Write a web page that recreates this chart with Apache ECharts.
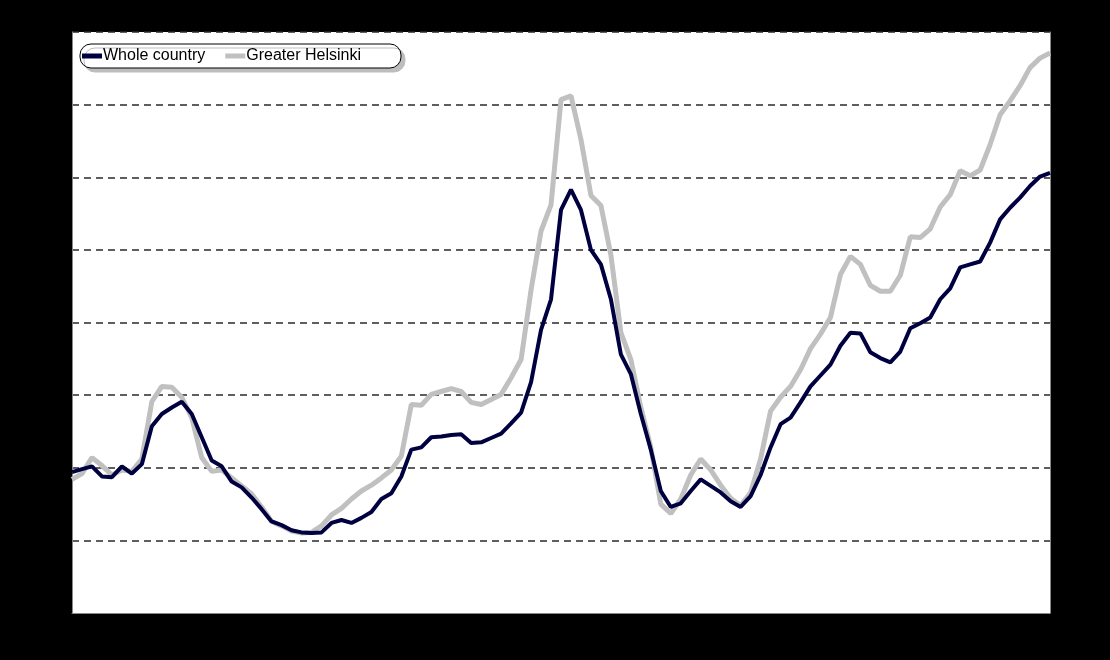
<!DOCTYPE html>
<html>
<head>
<meta charset="utf-8">
<script src="https://cdn.jsdelivr.net/npm/echarts@6/dist/echarts.min.js"></script>
<style>html,body{margin:0;padding:0;background:#000;}#chart{width:1110px;height:660px;}</style>
</head>
<body>
<div id="chart"></div>
<script>
const seriesNames = ['Whole country', 'Greater Helsinki'];
const periods = [];
for (let i = 1; i <= 99; i++) periods.push('P' + i);
const wholeCountry = [
  1.94,1.98,2.02,1.88,1.87,2.02,1.92,2.05,2.57,2.74,
  2.83,2.91,2.74,2.42,2.10,2.02,1.81,1.73,1.59,1.43,
  1.26,1.21,1.14,1.11,1.10,1.11,1.24,1.28,1.24,1.31,
  1.39,1.57,1.65,1.88,2.25,2.28,2.42,2.43,2.45,2.46,
  2.34,2.35,2.41,2.47,2.61,2.76,3.18,3.90,4.32,5.55,
  5.83,5.55,5.00,4.80,4.32,3.56,3.29,2.74,2.25,1.68,
  1.46,1.51,1.68,1.84,1.75,1.66,1.54,1.46,1.61,1.90,
  2.28,2.60,2.69,2.90,3.12,3.27,3.42,3.68,3.86,3.85,
  3.59,3.51,3.45,3.60,3.92,3.99,4.07,4.32,4.47,4.76,
  4.80,4.84,5.10,5.42,5.58,5.72,5.88,6.01,6.06
];
const greaterHelsinki = [
  1.84,1.92,2.14,2.03,1.90,1.97,1.95,2.12,2.91,3.12,
  3.11,2.97,2.69,2.14,1.95,1.97,1.86,1.75,1.64,1.46,
  1.26,1.20,1.13,1.10,1.11,1.20,1.35,1.44,1.57,1.68,
  1.76,1.86,1.97,2.16,2.87,2.86,3.01,3.05,3.09,3.05,
  2.90,2.87,2.94,3.01,3.24,3.49,4.45,5.26,5.62,7.07,
  7.12,6.52,5.75,5.61,4.93,3.86,3.49,2.83,2.28,1.50,
  1.37,1.57,1.90,2.12,1.97,1.76,1.58,1.48,1.66,2.12,
  2.78,2.97,3.12,3.35,3.64,3.84,4.07,4.66,4.91,4.80,
  4.51,4.43,4.43,4.65,5.18,5.17,5.29,5.59,5.76,6.09,
  6.02,6.10,6.45,6.86,7.05,7.26,7.51,7.64,7.71
];
const chart = echarts.init(document.getElementById('chart'), null, {renderer: 'canvas'});
const font = "'Liberation Sans','Arial',sans-serif";
const edge = {show: true, lineStyle: {color: '#888', width: 1}};
const gridColors = ['rgba(0,0,0,0)', '#2a2a2a', '#2a2a2a', '#2a2a2a', '#2a2a2a', '#2a2a2a', '#2a2a2a', '#2a2a2a', '#2a2a2a'];
chart.setOption({
  backgroundColor: '#000',
  animation: false,
  grid: {
    left: 72, right: 60, top: 32, bottom: 47,
    show: true, backgroundColor: '#fff', borderWidth: 0
  },
  legend: {
    left: 80, top: 44,
    data: seriesNames,
    backgroundColor: '#fff',
    borderColor: '#000', borderWidth: 1, borderRadius: 11,
    shadowColor: '#bdbdbd', shadowOffsetX: 4, shadowOffsetY: 4, shadowBlur: 0,
    padding: [4, 40, 4, 2],
    itemWidth: 20, itemHeight: 5, itemGap: 20,
    icon: 'rect',
    textStyle: {fontFamily: font, fontSize: 16, color: '#000', padding: [0, 0, 0, -4]}
  },
  xAxis: {
    type: 'category', data: periods, boundaryGap: false,
    axisLine: edge, axisTick: {show: false}, axisLabel: {show: false},
    splitLine: {show: false}
  },
  yAxis: [
    {
      type: 'value', min: 0, max: 8, interval: 1,
      axisLine: edge, axisTick: {show: false}, axisLabel: {show: false},
      splitLine: {show: true, lineStyle: {color: gridColors, type: [7, 5], width: 1.5}}
    },
    {
      type: 'value', min: 0, max: 8, interval: 1, position: 'right',
      axisLine: edge, axisTick: {show: false}, axisLabel: {show: false},
      splitLine: {show: false}
    }
  ],
  series: [
    {
      name: seriesNames[0], type: 'line', data: wholeCountry, z: 3,
      symbol: 'none', smooth: false,
      lineStyle: {color: '#000040', width: 4}, itemStyle: {color: '#000040'}
    },
    {
      name: seriesNames[1], type: 'line', data: greaterHelsinki, z: 2,
      symbol: 'none', smooth: false,
      lineStyle: {color: '#c0c0c0', width: 5}, itemStyle: {color: '#c0c0c0'}
    }
  ]
});
</script>
</body>
</html>
